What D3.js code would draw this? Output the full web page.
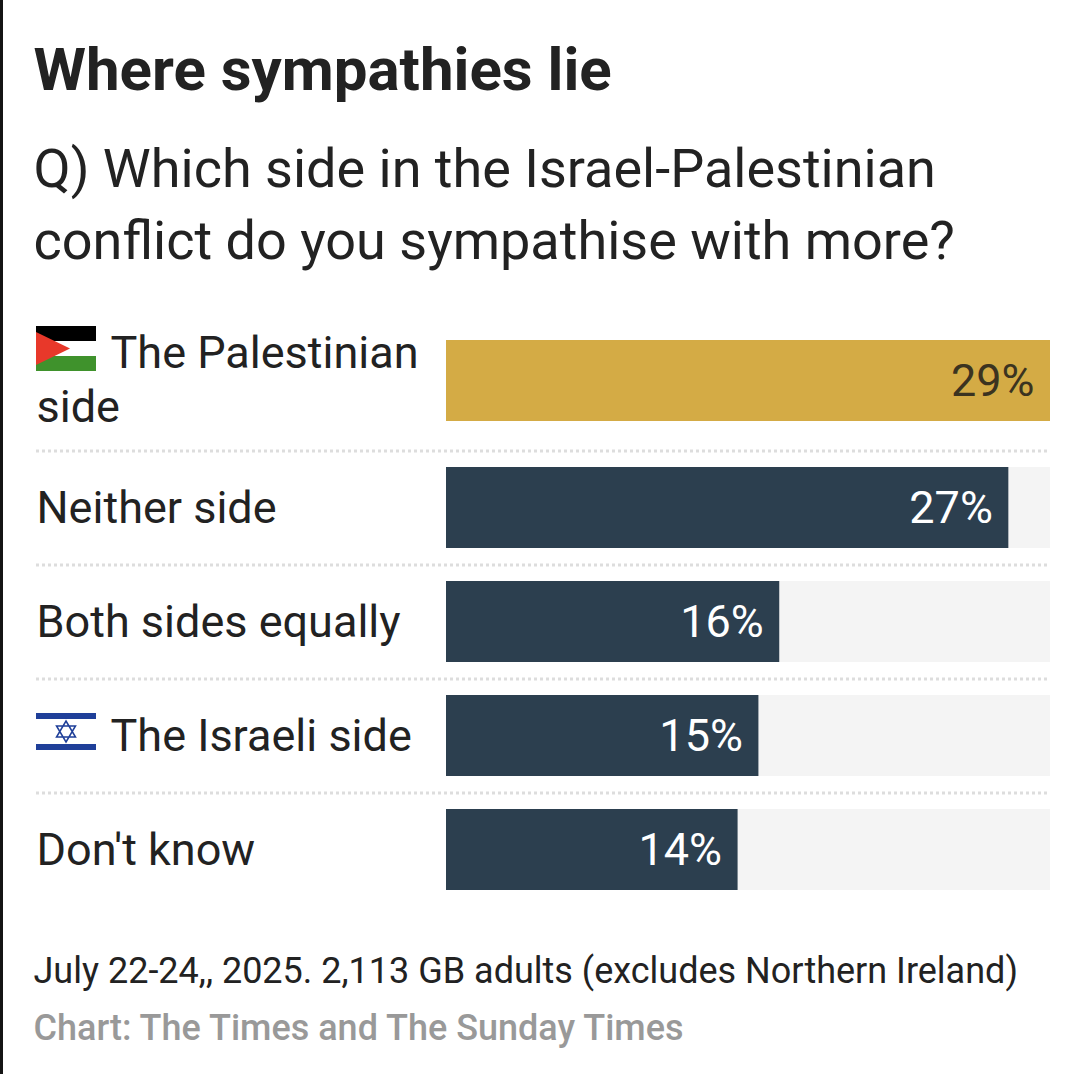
<!DOCTYPE html>
<html>
<head>
<meta charset="utf-8">
<script src="https://cdn.jsdelivr.net/npm/d3@7"></script>
<style>
  html, body { margin: 0; padding: 0; background: #fff; }
  svg { display: block; }
  text { font-family: Roboto, sans-serif; }
</style>
</head>
<body>
<div id="chart"></div>
<script>
// data
var categories = ["The Palestinian side", "Neither side", "Both sides equally", "The Israeli side", "Don't know"];
var values = [29, 27, 16, 15, 14];
var valueLabels = ["29%", "27%", "16%", "15%", "14%"];

var svgWidth = 1080;
var svgHeight = 1074;

var svg = d3.select("#chart")
  .append("svg")
  .attr("width", svgWidth)
  .attr("height", svgHeight);

svg.append("rect")
  .attr("x", 0).attr("y", 0)
  .attr("width", 3).attr("height", svgHeight)
  .attr("fill", "#141414");

// titles
svg.append("text").attr("x", 33.5).attr("y", 89.5)
  .attr("font-size", 60).attr("font-weight", 700).attr("fill", "#222")
  .text("Where sympathies lie");
svg.append("text").attr("x", 33.5).attr("y", 187)
  .attr("font-size", 54).attr("fill", "#222")
  .text("Q) Which side in the Israel-Palestinian");
svg.append("text").attr("x", 33.5).attr("y", 259)
  .attr("font-size", 54).attr("fill", "#222")
  .text("conflict do you sympathise with more?");

// scales
var x = d3.scaleLinear().domain([0, 29]).range([446, 1050]);
var rowTops = [340, 467, 581, 695, 809];
var y = d3.scaleOrdinal().domain(categories).range(rowTops);
var barHeight = 81;

// track
svg.selectAll(".track").data(categories).enter().append("rect")
  .attr("class", "track")
  .attr("x", x(0))
  .attr("y", d => y(d))
  .attr("width", x(29) - x(0))
  .attr("height", barHeight)
  .attr("fill", "#f4f4f4");

// bars
svg.selectAll(".bar").data(values).enter().append("rect")
  .attr("class", "bar")
  .attr("x", x(0))
  .attr("y", (d, i) => y(categories[i]))
  .attr("width", d => x(d) - x(0))
  .attr("height", barHeight)
  .attr("fill", (d, i) => i == 0 ? "#d4ab45" : "#2c3f4f");

// value labels
svg.selectAll(".val").data(values).enter().append("text")
  .attr("class", "val")
  .attr("x", d => x(d) - 15.5)
  .attr("y", (d, i) => y(categories[i]) + 55.5)
  .attr("text-anchor", "end")
  .attr("font-size", 45)
  .attr("fill", (d, i) => i == 0 ? "#3b3320" : "#fff")
  .text((d, i) => valueLabels[i]);

// dotted separators
var seps = [451, 565, 679, 793];
svg.selectAll(".sep").data(seps).enter().append("line")
  .attr("class", "sep")
  .attr("x1", 36).attr("x2", 1050)
  .attr("y1", d => d).attr("y2", d => d)
  .attr("stroke", "#ddd")
  .attr("stroke-width", 3)
  .attr("stroke-dasharray", "3 3");

// row labels
function rowLabel(str, px, py) {
  svg.append("text").attr("x", px).attr("y", py)
    .attr("font-size", 45).attr("fill", "#222").text(str);
}
rowLabel("The Palestinian", 110.5, 368);
rowLabel("side", 36.5, 422);
rowLabel(categories[1], 36.5, 523);
rowLabel(categories[2], 36.5, 637);
rowLabel(categories[3], 110.5, 751);
rowLabel(categories[4], 36.5, 865);

// Palestinian flag
var pal = svg.append("g").attr("transform", "translate(36,326)");
pal.append("rect").attr("width", 60).attr("height", 15).attr("fill", "#000");
pal.append("rect").attr("y", 15).attr("width", 60).attr("height", 15).attr("fill", "#fff");
pal.append("rect").attr("y", 30).attr("width", 60).attr("height", 15).attr("fill", "#3f922c");
pal.append("path").attr("d", "M0,6L34,22.5L0,39Z").attr("fill", "#e8382a");

// Israeli flag
var isr = svg.append("g").attr("transform", "translate(36,713)");
isr.append("rect").attr("width", 60).attr("height", 37).attr("fill", "#fff");
isr.append("rect").attr("y", 0).attr("width", 60).attr("height", 6).attr("fill", "#1f3f99");
isr.append("rect").attr("y", 31).attr("width", 60).attr("height", 6).attr("fill", "#1f3f99");
isr.append("path").attr("d", "M30,8L39.5,24L20.5,24Z M30,29L39.5,13L20.5,13Z")
  .attr("fill", "none").attr("stroke", "#1f3f99").attr("stroke-width", 1.5);

// footer
svg.append("text").attr("x", 33.5).attr("y", 983)
  .attr("font-size", 36).attr("fill", "#222")
  .text("July 22-24,, 2025. 2,113 GB adults (excludes Northern Ireland)");
svg.append("text").attr("x", 33.5).attr("y", 1040)
  .attr("font-size", 36).attr("font-weight", 500).attr("fill", "#999")
  .text("Chart: The Times and The Sunday Times");
</script>
</body>
</html>
